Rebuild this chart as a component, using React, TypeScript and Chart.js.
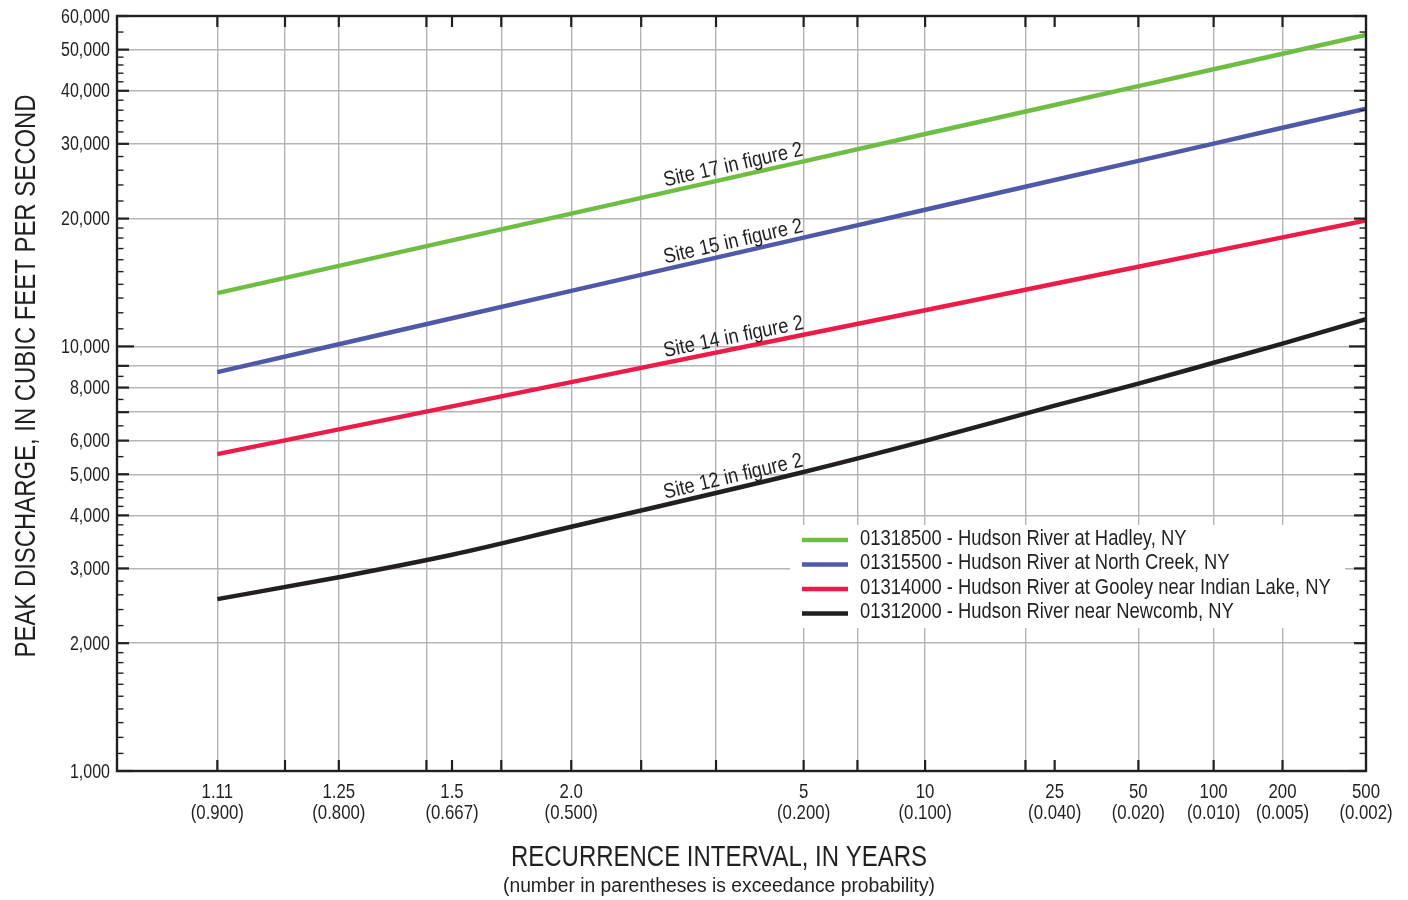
import React, { useEffect, useRef } from 'react';
import { Chart, registerables } from 'chart.js';

Chart.register(...registerables);

// ---------- data ----------
const recurrenceIntervals = ['1.11', '1.25', '1.5', '2.0', '5', '10', '25', '50', '100', '200', '500'];
const exceedanceProbabilities = [0.9, 0.8, 0.667, 0.5, 0.2, 0.1, 0.04, 0.02, 0.01, 0.005, 0.002];
const exceedanceLabels = ['(0.900)', '(0.800)', '(0.667)', '(0.500)', '(0.200)', '(0.100)', '(0.040)', '(0.020)', '(0.010)', '(0.005)', '(0.002)'];

const hadleyPeaks = [13350, 15480, 17770, 20550, 27280, 31630, 37040, 41030, 44950, 48910, 54140];
const northCreekPeaks = [8700, 10120, 11650, 13510, 18040, 20980, 24650, 27350, 30030, 32720, 36300];
const gooleyPeaks = [5575, 6375, 7224, 8239, 10650, 12170, 14050, 15400, 16740, 18060, 19800];
const newcombPeaks = [2540, 2860, 3230, 3760, 5060, 5990, 7250, 8170, 9150, 10150, 11600];

const seriesNames = [
  '01318500 - Hudson River at Hadley, NY',
  '01315500 - Hudson River at North Creek, NY',
  '01314000 - Hudson River at Gooley near Indian Lake, NY',
  '01312000 - Hudson River near Newcomb, NY',
];
const siteLabels = ['Site 17 in figure 2', 'Site 15 in figure 2', 'Site 14 in figure 2', 'Site 12 in figure 2'];
const seriesColors = ['#6fbe44', '#5058a8', '#ec1b47', '#231f20'];
const siteLabelRecurrence = 3.6;

// x axis (exceedance probability, normal probability scale)
const axisMinExceedance = 0.95;
const axisMaxExceedance = 0.002;
const gridExceedances = [0.9, 0.85, 0.8, 0.7, 0.6, 0.5, 0.4, 0.3, 0.2, 0.15, 0.1, 0.05, 0.02, 0.01, 0.005];
const tickOnlyExceedances = [0.667, 0.04];

// y axis (log)
const yMin = 1000;
const yMax = 60000;
const yLabelValues = [1000, 2000, 3000, 4000, 5000, 6000, 8000, 10000, 20000, 30000, 40000, 50000, 60000];
const yGridValues = [2000, 3000, 4000, 5000, 6000, 7000, 8000, 9000, 10000, 20000, 30000, 40000, 50000];
const yDecadeValues = [1000, 10000];
const yMajorUnlabeled = [7000, 9000];
const yMinorValues = [
  1100, 1200, 1300, 1400, 1500, 1600, 1700, 1800, 1900,
  2200, 2400, 2600, 2800, 3200, 3400, 3600, 3800, 4200, 4400, 4600, 4800,
  5500, 6500, 7500, 8500,
  11000, 12000, 13000, 14000, 15000, 16000, 17000, 18000, 19000,
  22000, 24000, 26000, 28000, 32000, 34000, 36000, 38000, 42000, 44000, 46000, 48000, 55000,
];

const INK = '#231f20';
const GRID = '#b5b5b5';
const FONT = "'Liberation Sans', Arial, sans-serif";

// inverse standard normal CDF (Acklam)
function invNorm(p: number): number {
  const a = [-3.969683028665376e1, 2.209460984245205e2, -2.759285104469687e2, 1.38357751867269e2, -3.066479806614716e1, 2.506628277459239];
  const b = [-5.447609879822406e1, 1.615858368580409e2, -1.556989798598866e2, 6.680131188771972e1, -1.328068155288572e1];
  const c = [-7.784894002430293e-3, -3.223964580411365e-1, -2.400758277161838, -2.549732539343734, 4.374664141464968, 2.938163982698783];
  const d = [7.784695709041462e-3, 3.224671290700398e-1, 2.445134137142996, 3.754408661907416];
  const pl = 0.02425;
  if (p < pl) {
    const q = Math.sqrt(-2 * Math.log(p));
    return (((((c[0] * q + c[1]) * q + c[2]) * q + c[3]) * q + c[4]) * q + c[5]) / ((((d[0] * q + d[1]) * q + d[2]) * q + d[3]) * q + 1);
  }
  if (p <= 1 - pl) {
    const q = p - 0.5;
    const r = q * q;
    return ((((((a[0] * r + a[1]) * r + a[2]) * r + a[3]) * r + a[4]) * r + a[5]) * q) / (((((b[0] * r + b[1]) * r + b[2]) * r + b[3]) * r + b[4]) * r + 1);
  }
  const q = Math.sqrt(-2 * Math.log(1 - p));
  return -(((((c[0] * q + c[1]) * q + c[2]) * q + c[3]) * q + c[4]) * q + c[5]) / ((((d[0] * q + d[1]) * q + d[2]) * q + d[3]) * q + 1);
}
const zOf = (exc: number) => invNorm(1 - exc);

type XTick = { value: number; grid: boolean; mark: boolean; labelIndex: number };
const allXExc = Array.from(new Set([...gridExceedances, ...tickOnlyExceedances, ...exceedanceProbabilities]));
const xTickItems: XTick[] = allXExc
  .map((p) => ({
    value: zOf(p),
    grid: gridExceedances.includes(p),
    mark: p !== axisMaxExceedance && p !== axisMinExceedance,
    labelIndex: exceedanceProbabilities.indexOf(p),
  }))
  .sort((u, v) => u.value - v.value);

const allYTicks = Array.from(new Set([...yLabelValues, ...yGridValues, ...yMinorValues, ...yMajorUnlabeled])).sort((u, v) => u - v);

function makePoints(values: number[]) {
  return values.map((v, i) => ({ x: zOf(exceedanceProbabilities[i]), y: v }));
}

// condensed text: regular face squeezed horizontally
function condensedText(
  ctx: CanvasRenderingContext2D,
  text: string,
  x: number,
  y: number,
  size: number,
  sx: number,
  align: CanvasTextAlign,
  rot = 0,
  fitWidth = 0,
) {
  ctx.save();
  ctx.font = `${size}px ${FONT}`;
  ctx.textAlign = align;
  ctx.textBaseline = 'middle';
  let s = sx;
  if (fitWidth > 0) s = fitWidth / ctx.measureText(text).width;
  ctx.translate(x, y);
  if (rot) ctx.rotate(rot);
  ctx.scale(s, 1);
  ctx.fillText(text, 0, 0);
  ctx.restore();
}

const overlayPlugin = {
  id: 'overlay',
  afterDraw(chart: any) {
    const { ctx, chartArea: a, scales } = chart;
    const xs = scales.x;
    const ys = scales.y;
    ctx.save();
    ctx.strokeStyle = INK;
    ctx.fillStyle = INK;
    ctx.lineCap = 'butt';
    const seg = (x1: number, y1: number, x2: number, y2: number) => {
      ctx.beginPath();
      ctx.moveTo(x1, y1);
      ctx.lineTo(x2, y2);
      ctx.stroke();
    };
    // x tick marks (inward, top and bottom)
    ctx.lineWidth = 2.2;
    xTickItems.forEach((t) => {
      if (!t.mark) return;
      const px = xs.getPixelForValue(t.value);
      seg(px, a.bottom, px, a.bottom - 11);
      seg(px, a.top, px, a.top + 11);
    });
    // y tick marks (inward, left and right)
    allYTicks.forEach((v) => {
      const py = ys.getPixelForValue(v);
      let len = 6.5;
      ctx.lineWidth = 1.4;
      if (yDecadeValues.includes(v)) {
        len = 17;
        ctx.lineWidth = 2.2;
      } else if (yLabelValues.includes(v) || yMajorUnlabeled.includes(v)) {
        len = 12;
        ctx.lineWidth = 2.2;
      }
      seg(a.left, py, a.left + len, py);
      seg(a.right, py, a.right - len, py);
    });
    // frame
    ctx.lineWidth = 2.4;
    ctx.strokeRect(a.left, a.top, a.right - a.left, a.bottom - a.top);

    // x tick labels
    xTickItems.forEach((t) => {
      if (t.labelIndex < 0) return;
      const px = xs.getPixelForValue(t.value);
      condensedText(ctx, recurrenceIntervals[t.labelIndex], px, a.bottom + 21, 21, 0.8, 'center');
      condensedText(ctx, exceedanceLabels[t.labelIndex], px, a.bottom + 42, 21, 0.8, 'center');
    });
    // y tick labels
    yLabelValues.forEach((v) => {
      const py = ys.getPixelForValue(v);
      condensedText(ctx, v.toLocaleString('en-US'), a.left - 7, py + 1, 20, 0.8, 'right');
    });

    // site labels along lines
    const labelX = xs.getPixelForValue(zOf(1 / siteLabelRecurrence));
    siteLabels.forEach((lab, i) => {
      const pts = chart.getDatasetMeta(i).data;
      for (let k = 0; k < pts.length - 1; k++) {
        const p1 = pts[k];
        const p2 = pts[k + 1];
        if (labelX >= p1.x && labelX <= p2.x) {
          const f = (labelX - p1.x) / (p2.x - p1.x);
          const py = p1.y + f * (p2.y - p1.y);
          const ang = Math.atan2(p2.y - p1.y, p2.x - p1.x);
          const off = 12;
          condensedText(ctx, lab, labelX + 2 + off * Math.sin(ang), py - off * Math.cos(ang), 21, 0.87, 'center', ang);
          break;
        }
      }
    });

    // legend
    ctx.fillStyle = '#ffffff';
    ctx.fillRect(790, 525, 555, 103);
    const rows = [537.5, 562, 586.5, 611];
    seriesNames.forEach((name, i) => {
      ctx.strokeStyle = seriesColors[i];
      ctx.lineWidth = 4.5;
      seg(802, rows[i] + 2.5, 848, rows[i] + 2.5);
      ctx.fillStyle = INK;
      condensedText(ctx, name, 860, rows[i] + 1, 22, 0.835, 'left');
    });

    // axis titles
    ctx.fillStyle = INK;
    condensedText(ctx, 'PEAK DISCHARGE, IN CUBIC FEET PER SECOND', 27, 376, 29, 0.85, 'center', -Math.PI / 2, 563);
    condensedText(ctx, 'RECURRENCE INTERVAL, IN YEARS', 719, 858, 29, 0.85, 'center', 0, 416);
    condensedText(ctx, '(number in parentheses is exceedance probability)', 719, 886, 20, 0.9, 'center', 0, 432);
    ctx.restore();
  },
};

export default function App() {
  const canvasRef = useRef<HTMLCanvasElement | null>(null);

  useEffect(() => {
    if (!canvasRef.current) return;
    const series = [hadleyPeaks, northCreekPeaks, gooleyPeaks, newcombPeaks];
    const chart = new Chart(canvasRef.current, {
      type: 'line',
      data: {
        datasets: series.map((vals, i) => ({
          label: seriesNames[i],
          data: makePoints(vals),
          borderColor: seriesColors[i],
          backgroundColor: seriesColors[i],
          borderWidth: 4.5,
          pointRadius: 0,
          fill: false,
          cubicInterpolationMode: i === 3 ? 'monotone' : 'default',
          tension: 0,
        })),
      },
      options: {
        responsive: false,
        animation: false,
        devicePixelRatio: 1,
        events: [],
        layout: { padding: { top: 16, right: 42, left: 0, bottom: 0 } },
        plugins: {
          legend: { display: false },
          tooltip: { enabled: false },
        },
        scales: {
          x: {
            type: 'linear',
            min: zOf(axisMinExceedance),
            max: zOf(axisMaxExceedance),
            afterBuildTicks: (s: any) => {
              s.ticks = xTickItems.map((t) => ({ value: t.value }));
            },
            afterFit: (s: any) => {
              s.height = 129;
            },
            border: { display: false },
            grid: {
              drawTicks: false,
              lineWidth: 1.4,
              color: (c: any) => (xTickItems[c.index] && xTickItems[c.index].grid ? GRID : 'rgba(0,0,0,0)'),
            },
            ticks: { display: false, autoSkip: false, maxRotation: 0 },
          },
          y: {
            type: 'logarithmic',
            min: yMin,
            max: yMax,
            afterBuildTicks: (s: any) => {
              s.ticks = allYTicks.map((v) => ({ value: v }));
            },
            afterFit: (s: any) => {
              s.width = 117;
            },
            border: { display: false },
            grid: {
              drawTicks: false,
              lineWidth: 1.4,
              color: (c: any) => (c.tick && yGridValues.includes(c.tick.value) ? GRID : 'rgba(0,0,0,0)'),
            },
            ticks: { display: false, autoSkip: false },
          },
        },
      },
      plugins: [overlayPlugin],
    } as any);
    return () => chart.destroy();
  }, []);

  return (
    <div style={{ position: 'absolute', left: 0, top: 0, width: 1408, height: 900, background: '#ffffff' }}>
      <canvas ref={canvasRef} width={1408} height={900} style={{ display: 'block', width: 1408, height: 900 }} />
    </div>
  );
}
